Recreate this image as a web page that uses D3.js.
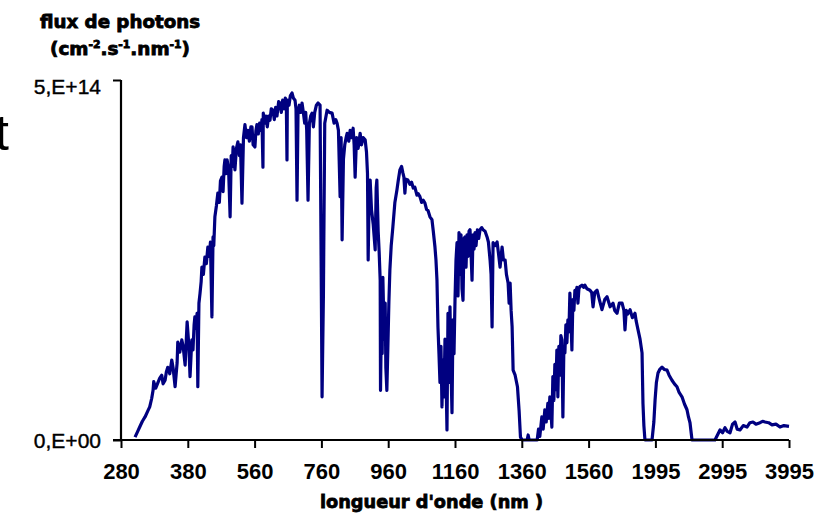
<!DOCTYPE html>
<html>
<head>
<meta charset="utf-8">
<script src="https://cdn.jsdelivr.net/npm/d3@7"></script>
<style>
  body { margin: 0; background: #fff; }
  svg { display: block; }
</style>
</head>
<body>
<div id="chart"></div>
<script>
// Data
var xTicks = [280, 380, 560, 760, 960, 1160, 1360, 1560, 1995, 2995, 3995];
var yTicks = [0, 5e14];
var yTickLabels = ["0,E+00", "5,E+14"];

// [wavelength (nm), photon flux (x 1E14 cm-2.s-1.nm-1)]
var spectrum = [
  [301, 0.04], [305, 0.12], [308, 0.18], [312, 0.26], [316, 0.32], [320, 0.40], [323, 0.46],
  [326, 0.58], [328, 0.69], [329, 0.81], [332, 0.72], [335, 0.79], [338, 0.86], [341, 0.90],
  [343, 0.78], [346, 0.83], [348, 0.95], [350, 1.01], [353, 0.92], [356, 1.11], [358, 1.00],
  [361, 0.74], [364, 1.07], [365, 1.36], [368, 1.22], [371, 1.39], [373, 1.30], [376, 1.04],
  [379, 1.64],
  [383, 1.30], [386, 0.88], [389, 1.20], [391, 1.39], [394, 1.25], [397, 1.60], [399, 1.71],
  [402, 1.55], [405, 1.76], [407, 0.74], [410, 1.90], [413, 2.04], [416, 2.20], [418, 2.40],
  [422, 2.30], [426, 2.54], [430, 2.45], [434, 2.68], [438, 2.55], [441, 2.75], [445, 1.71],
  [448, 2.82], [450, 2.70], [453, 3.10], [457, 3.25], [461, 3.43], [465, 3.30], [468, 3.60],
  [472, 3.65], [475, 3.45], [478, 3.80], [480, 3.89], [483, 3.70], [486, 3.89], [490, 3.75],
  [494, 3.10], [497, 3.95], [500, 3.80], [502, 4.07], [505, 3.90], [507, 3.75], [511, 4.05],
  [515, 4.14], [519, 3.95], [522, 4.10], [526, 3.29], [530, 4.20], [534, 4.38], [538, 4.20],
  [542, 4.30], [546, 4.15], [550, 4.35], [553, 4.35], [556, 4.10],
  [561, 4.07], [564, 4.30], [567, 4.38], [571, 4.25], [575, 4.40], [579, 4.30], [582, 4.45],
  [585, 3.79], [586, 4.54], [590, 4.40], [594, 4.50], [598, 4.35], [602, 4.50], [606, 4.44],
  [610, 4.60], [615, 4.58], [619, 4.45], [623, 4.62], [627, 4.50], [632, 4.70], [636, 4.68],
  [640, 4.55], [644, 4.72], [648, 4.60], [652, 4.75], [655, 4.65], [657, 3.89], [658, 4.72],
  [663, 4.65], [667, 4.78], [672, 4.82], [676, 4.75], [681, 4.72], [684, 4.60], [687, 3.33],
  [690, 4.55], [694, 4.65], [698, 4.55], [702, 4.68], [706, 4.55], [710, 4.40], [713, 4.55],
  [716, 4.30], [720, 3.33], [724, 4.40], [728, 4.50], [732, 4.54], [736, 4.35], [740, 4.55],
  [745, 4.65], [750, 4.68], [756, 4.65],
  [762, 0.60], [766, 2.00], [770, 4.40], [777, 4.58], [784, 4.55], [792, 4.54], [798, 4.40],
  [803, 4.45], [807, 4.40], [811, 4.30], [816, 3.38], [819, 4.20], [822, 2.78], [826, 3.90],
  [830, 4.10], [834, 4.20], [837, 4.26], [842, 4.15], [846, 4.30], [850, 4.20], [855, 4.33],
  [858, 4.10], [861, 3.65], [865, 4.20], [870, 4.05], [876, 4.26], [880, 4.10], [885, 4.20],
  [891, 4.17], [895, 4.00], [898, 3.70], [900, 2.50], [903, 3.40], [906, 3.61], [910, 3.20],
  [915, 3.00], [921, 2.64], [924, 3.50], [926, 3.61], [930, 2.90], [933, 2.60], [936, 2.22],
  [937, 0.69], [940, 1.80], [942, 1.20], [944, 2.26], [948, 1.40], [951, 1.90], [953, 1.00],
  [956, 0.69],
  [959, 1.29], [962, 1.90], [965, 2.36], [969, 2.70], [974, 2.96], [980, 3.30], [986, 3.47],
  [990, 3.60], [995, 3.75], [1000, 3.80], [1004, 3.71], [1007, 3.65], [1010, 3.43], [1013, 3.62],
  [1019, 3.61], [1025, 3.55], [1030, 3.58], [1035, 3.50], [1040, 3.51], [1046, 3.40], [1050, 3.42],
  [1055, 3.38], [1060, 3.30], [1065, 3.33], [1070, 3.29], [1075, 3.20], [1079, 3.19], [1085, 3.10],
  [1091, 3.06], [1095, 2.90], [1100, 2.68], [1103, 2.50], [1106, 2.22], [1109, 1.57], [1112, 1.20],
  [1115, 0.80], [1118, 1.30], [1121, 0.46], [1124, 1.11], [1127, 0.60], [1130, 1.40], [1133, 0.90],
  [1136, 0.14], [1139, 1.76], [1142, 0.80], [1145, 1.85], [1148, 1.00], [1151, 0.38], [1154, 1.67],
  [1157, 1.20],
  [1160, 1.94], [1163, 2.50], [1166, 2.74], [1169, 2.00], [1172, 2.88], [1175, 2.30], [1178, 2.85],
  [1181, 2.10], [1184, 1.94], [1187, 2.80], [1190, 2.82], [1193, 2.40], [1196, 2.85], [1199, 2.55],
  [1202, 2.90], [1205, 2.92], [1208, 2.60], [1211, 2.22], [1214, 2.85], [1217, 2.65], [1220, 2.88],
  [1223, 2.70], [1227, 2.92], [1231, 2.80], [1235, 2.92], [1240, 2.95], [1244, 2.92], [1250, 2.90],
  [1256, 2.82], [1260, 2.75], [1265, 2.50], [1268, 2.30], [1271, 1.57], [1274, 2.74], [1280, 2.70],
  [1286, 2.75], [1290, 2.60], [1295, 2.40], [1298, 2.55], [1301, 2.68], [1305, 2.50], [1310, 2.50],
  [1314, 2.30], [1319, 2.18], [1322, 1.90], [1325, 2.18], [1328, 1.80], [1331, 1.57], [1334, 0.97],
  [1340, 0.90], [1347, 0.74], [1352, 0.40], [1356, 0.04],
  [1361, 0], [1376, 0], [1379, 0.07], [1382, 0], [1406, 0], [1410, 0.15], [1414, 0.05],
  [1420, 0.32], [1424, 0.15], [1429, 0.42], [1433, 0.25], [1438, 0.51], [1441, 0.30], [1444, 0.60],
  [1447, 0.40], [1450, 0.18], [1453, 0.88], [1456, 0.55], [1459, 1.05], [1462, 0.70], [1465, 1.25],
  [1468, 0.60], [1471, 1.30], [1474, 0.90], [1477, 1.45], [1480, 1.39], [1483, 0.32], [1486, 1.30],
  [1489, 1.21], [1492, 1.60], [1495, 1.35], [1498, 1.67], [1501, 1.50], [1504, 2.04], [1507, 1.70],
  [1510, 1.25], [1513, 1.95], [1516, 1.80], [1519, 2.08], [1522, 2.00], [1525, 2.12], [1528, 1.90],
  [1531, 2.10], [1534, 2.13], [1540, 2.15], [1545, 2.12], [1549, 2.15], [1555, 2.10],
  [1569, 2.08], [1580, 2.05], [1589, 1.85], [1600, 2.05], [1615, 2.08], [1630, 1.95], [1647, 1.81],
  [1665, 1.95], [1680, 1.99], [1700, 1.85], [1719, 1.90], [1730, 1.80], [1745, 1.76], [1760, 1.90],
  [1778, 1.90], [1790, 1.80], [1797, 1.53], [1805, 1.80], [1815, 1.75], [1830, 1.81], [1845, 1.70],
  [1862, 1.76], [1870, 1.65], [1882, 1.53], [1895, 1.40], [1908, 1.21], [1914, 0.51], [1920, 0.20],
  [1927, 0], [1973, 0], [1985, 0.25], [1993, 0.56],
  [2010, 0.80], [2034, 0.93], [2060, 0.98], [2094, 1.01], [2130, 0.98], [2169, 0.97], [2200, 0.90],
  [2243, 0.83], [2280, 0.78], [2318, 0.74], [2350, 0.66], [2393, 0.60], [2430, 0.50], [2468, 0.42],
  [2490, 0.32], [2513, 0.24], [2543, 0], [2887, 0], [2930, 0.08], [2962, 0.14],
  [3000, 0.10], [3037, 0.17], [3070, 0.12], [3112, 0.10], [3150, 0.22], [3187, 0.25], [3220, 0.15],
  [3261, 0.14], [3310, 0.20], [3366, 0.18], [3410, 0.24], [3456, 0.25], [3500, 0.22], [3561, 0.24],
  [3600, 0.26], [3636, 0.25], [3690, 0.24], [3741, 0.21], [3800, 0.22], [3860, 0.18], [3920, 0.20],
  [3995, 0.19]
];

var width = 832, height = 515;
var plotLeft = 121, plotRight = 789, plotTop = 80, plotBottom = 440;

var svg = d3.select("#chart")
    .append("svg")
    .attr("width", width)
    .attr("height", height)
    .style("background", "#fff");

// category-like axis: labels evenly spaced, values interpolated between them
var x = d3.scaleLinear()
    .domain(xTicks)
    .range(xTicks.map(function(d, i) { return plotLeft + i * (plotRight - plotLeft) / (xTicks.length - 1); }));

var y = d3.scaleLinear()
    .domain([0, 5e14])
    .range([plotBottom, plotTop]);

var line = d3.line()
    .x(function(d) { return x(d[0]); })
    .y(function(d) { return y(d[1] * 1e14); });

svg.append("path")
    .datum(spectrum)
    .attr("d", line)
    .attr("fill", "none")
    .attr("stroke", "#000080")
    .attr("stroke-width", 3.2)
    .attr("stroke-linejoin", "round");

// axes
var xAxis = d3.axisBottom(x)
    .tickValues(xTicks)
    .tickSize(8)
    .tickPadding(15)
    .tickFormat(function(d) { return d; });

var gx = svg.append("g")
    .attr("transform", "translate(0," + plotBottom + ")")
    .call(xAxis);
gx.select(".domain").attr("d", "M" + (plotLeft - 8) + ",0H" + plotRight).attr("stroke-width", 2.2);
gx.selectAll(".tick line").attr("stroke-width", 2);
gx.selectAll(".tick text")
    .attr("font-family", "'Liberation Sans', Arial, sans-serif")
    .attr("font-weight", "bold")
    .attr("font-size", 22)
    .attr("fill", "#000");

var yAxis = d3.axisLeft(y)
    .tickValues(yTicks)
    .tickSize(8)
    .tickPadding(12)
    .tickFormat(function(d, i) { return yTickLabels[i]; });

var gy = svg.append("g")
    .attr("transform", "translate(" + plotLeft + ",0)")
    .call(yAxis);
gy.select(".domain").attr("d", "M0," + plotTop + "V" + plotBottom).attr("stroke-width", 2.2);
gy.selectAll(".tick line").attr("stroke-width", 2);
gy.selectAll(".tick text")
    .attr("font-family", "'Liberation Sans', Arial, sans-serif")
    .attr("font-size", 21)
    .attr("stroke", "#000")
    .attr("stroke-width", 0.4)
    .attr("fill", "#000")
    .attr("dy", function(d) { return d > 0 ? "0.62em" : "0.35em"; });

// titles
var titleFont = "'DejaVu Sans', sans-serif";
svg.append("text")
    .attr("x", 40).attr("y", 28)
    .attr("font-family", titleFont).attr("font-weight", "bold").attr("font-size", 17)
    .attr("stroke", "#000").attr("stroke-width", 0.8)
    .attr("textLength", 160).attr("lengthAdjust", "spacingAndGlyphs")
    .text("flux de photons");

var unit = svg.append("text")
    .attr("x", 50).attr("y", 55)
    .attr("font-family", titleFont).attr("font-weight", "bold").attr("font-size", 17)
    .attr("stroke", "#000").attr("stroke-width", 0.8)
    .attr("textLength", 140).attr("lengthAdjust", "spacingAndGlyphs");
unit.append("tspan").text("(cm");
unit.append("tspan").attr("dy", -7).attr("font-size", 10).text("-2");
unit.append("tspan").attr("dy", 7).text(".s");
unit.append("tspan").attr("dy", -7).attr("font-size", 10).text("-1");
unit.append("tspan").attr("dy", 7).text(".nm");
unit.append("tspan").attr("dy", -7).attr("font-size", 10).text("-1");
unit.append("tspan").attr("dy", 7).text(")");

svg.append("text")
    .attr("x", 320).attr("y", 508)
    .attr("font-family", titleFont).attr("font-weight", "bold").attr("font-size", 18)
    .attr("stroke", "#000").attr("stroke-width", 0.8)
    .attr("textLength", 223).attr("lengthAdjust", "spacingAndGlyphs")
    .text("longueur d'onde (nm )");

// stray letter at the left edge
svg.append("text")
    .attr("x", 9).attr("y", 150)
    .attr("text-anchor", "end")
    .attr("font-family", "'Liberation Sans', Arial, sans-serif")
    .attr("font-size", 50)
    .text("t");
</script>
</body>
</html>
